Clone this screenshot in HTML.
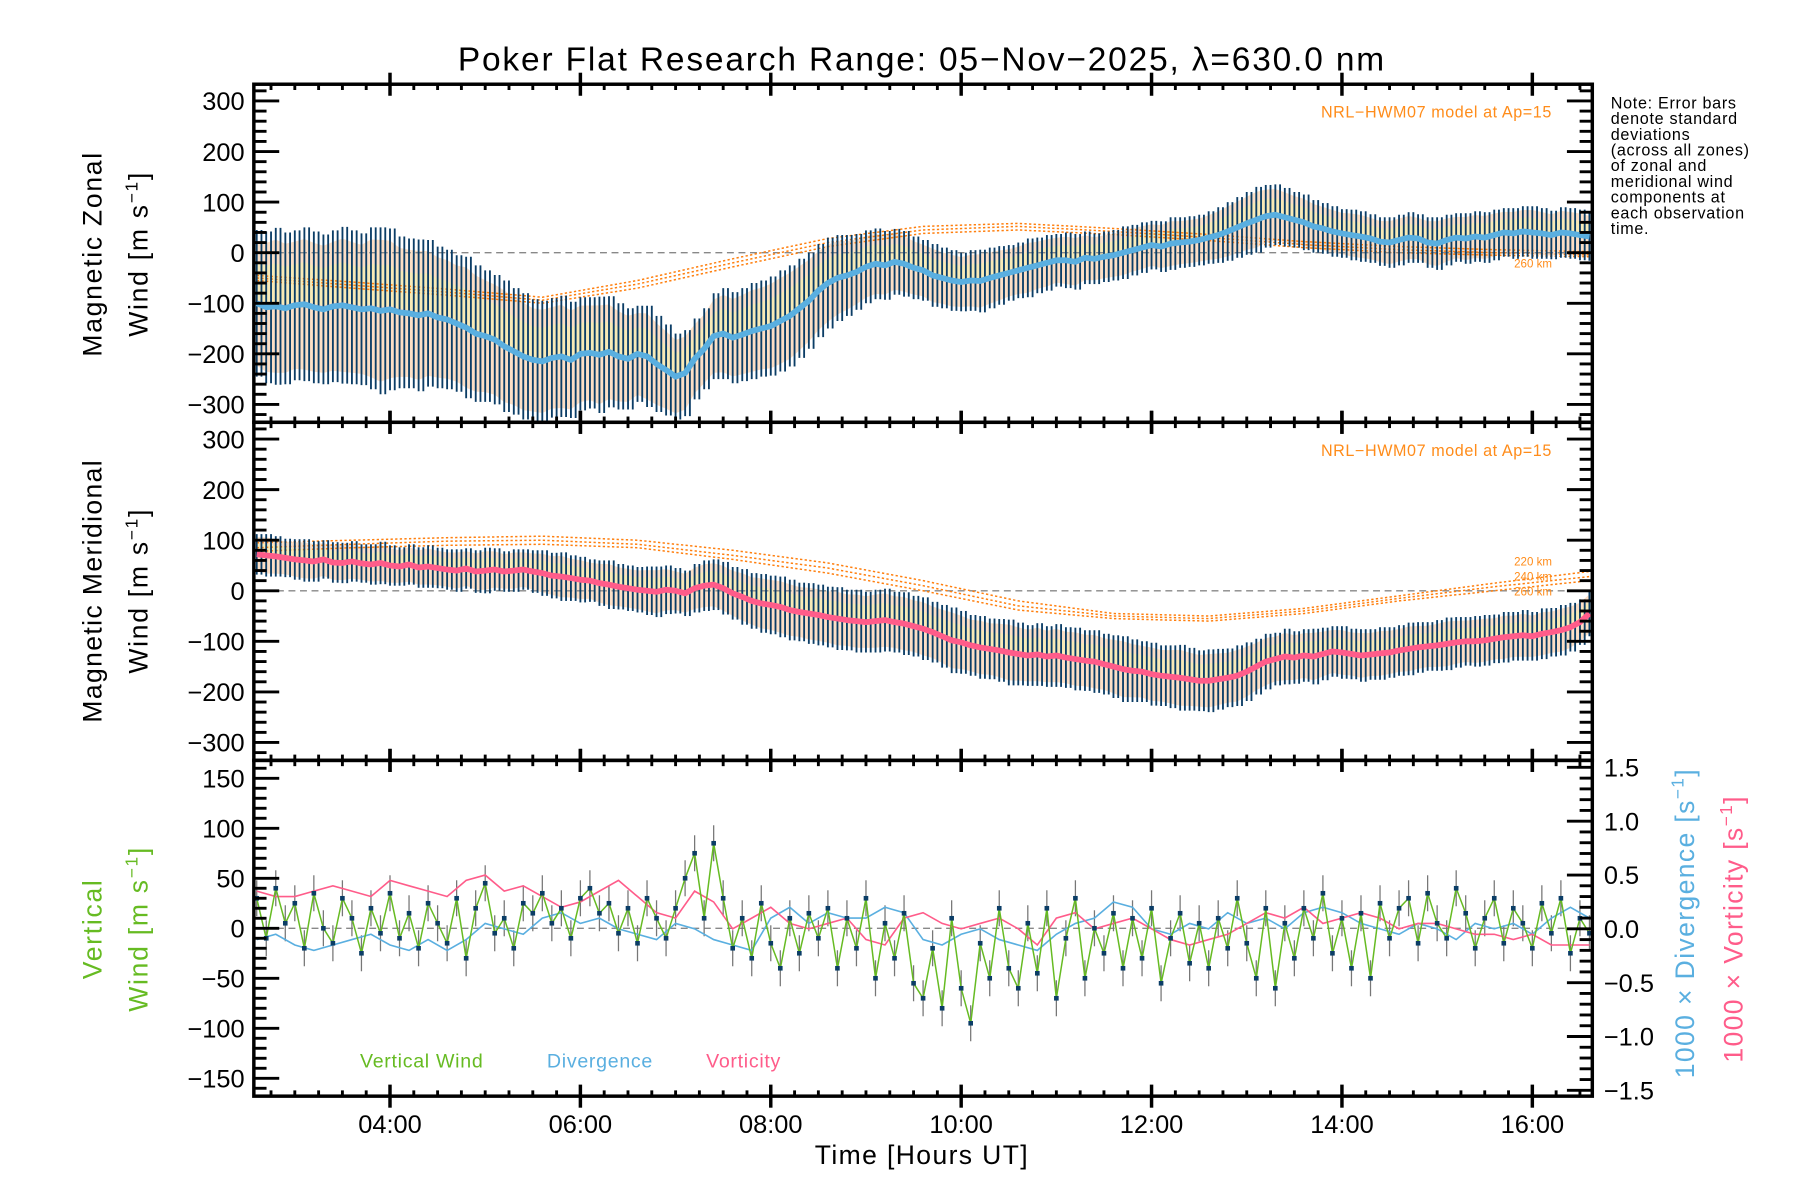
<!DOCTYPE html>
<html><head><meta charset="utf-8"><style>
html,body{margin:0;padding:0;background:#fff;}
svg{display:block;font-family:"Liberation Sans",sans-serif;}
</style></head><body>
<svg id="chart" width="1800" height="1200" viewBox="0 0 1560 1040" xmlns="http://www.w3.org/2000/svg">
<text x="799" y="61" text-anchor="middle" font-size="29" letter-spacing="1.6">Poker Flat Research Range: 05−Nov−2025, λ=630.0 nm</text>
<g id="layer-bg"></g>
<g id="layer-data"></g>
<g id="layer-axes"></g>
<text font-size="14" letter-spacing="0.6" x="1396" y="94">
<tspan x="1396" dy="0">Note: Error bars</tspan><tspan x="1396" dy="13.6">denote standard</tspan><tspan x="1396" dy="13.6">deviations</tspan><tspan x="1396" dy="13.6">(across all zones)</tspan><tspan x="1396" dy="13.6">of zonal and</tspan><tspan x="1396" dy="13.6">meridional wind</tspan><tspan x="1396" dy="13.6">components at</tspan><tspan x="1396" dy="13.6">each observation</tspan><tspan x="1396" dy="13.6">time.</tspan></text>
<text x="1345" y="102" text-anchor="end" font-size="14" letter-spacing="0.5" fill="#ff8c1a">NRL−HWM07 model at Ap=15</text>
<text x="1345" y="395" text-anchor="end" font-size="14" letter-spacing="0.5" fill="#ff8c1a">NRL−HWM07 model at Ap=15</text>
<text x="1345" y="490" text-anchor="end" font-size="10" fill="#ff8c1a">220 km</text>
<text x="1345" y="503" text-anchor="end" font-size="10" fill="#ff8c1a">240 km</text>
<text x="1345" y="516" text-anchor="end" font-size="10" fill="#ff8c1a">260 km</text>
<text x="1345" y="232" text-anchor="end" font-size="10" fill="#ff8c1a">260 km</text>
<text transform="translate(88,220) rotate(-90)" text-anchor="middle" font-size="23" letter-spacing="1.5">Magnetic Zonal</text>
<text transform="translate(128,220) rotate(-90)" text-anchor="middle" font-size="23" letter-spacing="1.5">Wind [m s<tspan dy="-9" font-size="15">−1</tspan><tspan dy="9">]</tspan></text>
<text transform="translate(88,512) rotate(-90)" text-anchor="middle" font-size="23" letter-spacing="1.2">Magnetic Meridional</text>
<text transform="translate(128,512) rotate(-90)" text-anchor="middle" font-size="23" letter-spacing="1.5">Wind [m s<tspan dy="-9" font-size="15">−1</tspan><tspan dy="9">]</tspan></text>
<text transform="translate(88,805) rotate(-90)" text-anchor="middle" font-size="23" letter-spacing="1.5" fill="#66bb22">Vertical</text>
<text transform="translate(128,805) rotate(-90)" text-anchor="middle" font-size="23" letter-spacing="1.5" fill="#66bb22">Wind [m s<tspan dy="-9" font-size="15">−1</tspan><tspan dy="9">]</tspan></text>
<text transform="translate(1468,800) rotate(-90)" text-anchor="middle" font-size="23" letter-spacing="1.2" fill="#5aafe0">1000 × Divergence [s<tspan dy="-9" font-size="15">−1</tspan><tspan dy="9">]</tspan></text>
<text transform="translate(1510,805) rotate(-90)" text-anchor="middle" font-size="23" letter-spacing="1.2" fill="#ff5c8a">1000 × Vorticity [s<tspan dy="-9" font-size="15">−1</tspan><tspan dy="9">]</tspan></text>
<text x="312" y="925" font-size="17" letter-spacing="0.6" fill="#66bb22">Vertical Wind</text>
<text x="474" y="925" font-size="17" letter-spacing="0.6" fill="#5aafe0">Divergence</text>
<text x="612" y="925" font-size="17" letter-spacing="0.6" fill="#ff5c8a">Vorticity</text>
<text x="799" y="1009" text-anchor="middle" font-size="23" letter-spacing="1.2">Time [Hours UT]</text>
</svg>
<script>
const tStart = 2.6, tStep = 0.1;
const zonalMean = [-100,-108,-106,-110,-104,-102,-108,-112,-106,-104,
-108,-112,-110,-115,-112,-118,-120,-124,-120,-128,
-132,-140,-148,-160,-165,-172,-185,-195,-205,-212,
-215,-208,-205,-212,-200,-198,-202,-196,-205,-210,
-200,-205,-220,-232,-245,-238,-210,-190,-165,-160,
-168,-162,-155,-150,-145,-135,-125,-110,-95,-75,
-60,-50,-45,-38,-28,-22,-25,-18,-22,-30,
-35,-45,-50,-55,-58,-55,-56,-50,-45,-40,
-35,-30,-25,-20,-15,-15,-18,-10,-12,-8,
-5,0,5,10,15,12,18,20,22,25,
30,35,42,50,58,65,72,75,70,65,
60,52,48,42,38,35,32,28,22,20,
25,30,28,20,18,25,30,28,32,30,
35,40,38,42,40,38,35,40,38,35,32];
const zonalStd = [145,150,155,150,148,152,150,148,150,155,
152,150,160,165,160,150,148,150,145,140,
138,135,140,135,130,128,130,125,125,120,
120,118,120,115,112,110,115,110,105,100,
95,100,95,90,85,85,80,80,85,90,
90,92,95,95,98,100,100,98,95,92,
90,85,80,75,72,70,68,65,65,62,
60,62,60,60,58,60,62,60,58,55,
55,58,55,55,52,55,55,52,50,50,
50,52,50,50,48,50,52,50,50,50,
52,55,58,60,62,65,62,60,58,55,
55,52,50,50,48,50,50,48,48,50,
50,50,48,50,52,50,48,50,50,50,
50,48,50,50,52,50,48,50,50,50,48];
const meridMean = [72,70,68,65,62,60,58,62,56,55,
58,54,52,55,50,48,52,46,48,45,
42,40,44,38,40,42,38,40,42,38,
35,30,28,25,22,20,15,12,8,5,
2,0,-2,2,0,-5,5,10,12,5,
-5,-12,-20,-25,-28,-32,-38,-42,-45,-48,
-52,-55,-58,-60,-62,-60,-58,-62,-65,-70,
-75,-82,-90,-98,-102,-108,-112,-115,-118,-122,
-125,-128,-126,-130,-128,-132,-135,-138,-140,-145,
-150,-155,-158,-160,-165,-168,-170,-172,-175,-178,
-178,-175,-172,-168,-160,-150,-140,-135,-130,-132,
-128,-130,-125,-120,-122,-125,-128,-126,-124,-122,
-118,-115,-112,-110,-108,-105,-102,-100,-100,-98,
-95,-92,-90,-88,-90,-85,-82,-78,-72,-62,-45];
const meridStd = [40,42,40,38,40,42,40,38,40,40,
40,38,40,42,40,38,40,40,42,40,
40,42,40,42,45,42,40,42,40,42,
45,45,48,45,45,42,45,48,45,45,
45,48,50,48,45,45,48,50,50,52,
52,55,55,58,58,60,60,58,60,60,
60,62,60,62,60,62,62,60,62,60,
62,60,62,65,62,60,62,60,62,65,
62,60,62,60,62,60,62,60,62,60,
62,65,62,60,62,60,62,65,62,60,
62,60,58,60,58,55,55,52,55,52,
52,55,52,50,52,50,52,50,52,50,
50,52,50,48,50,52,50,48,50,50,
48,50,48,50,48,50,48,50,48,45,45];
const vertWind = [30,-10,40,5,25,-20,35,0,-15,30,
10,-25,20,-5,35,-10,15,-20,25,5,
-15,30,-30,20,45,-5,10,-20,25,15,
35,5,20,-10,30,40,15,25,-5,20,
-15,30,10,-10,20,50,75,10,85,30,
-20,10,-30,25,-15,-40,10,-25,15,-10,
20,-40,10,-20,30,-50,5,-30,15,-55,
-70,-20,-80,10,-60,-95,-15,-50,20,-40,
-60,5,-45,20,-70,-10,30,-50,0,-25,
15,-40,10,-30,20,-55,-10,15,-35,5,
-40,10,-20,30,-15,-50,20,-60,5,-30,
20,-10,35,-25,10,-40,15,-50,25,-10,
20,30,-15,35,5,-10,40,15,-20,10,
30,-15,20,5,-20,25,-5,30,-25,10,-5];
const vertErr = 18;
const dvStep = 0.2;
const divergence = [-0.1,-0.05,-0.15,-0.2,-0.15,-0.1,-0.05,-0.15,-0.2,-0.1,
-0.2,-0.1,0.05,0.0,-0.05,0.1,0.15,0.05,0.1,0.0,
-0.05,-0.1,0.05,0.0,-0.1,-0.15,-0.2,0.1,0.2,0.05,
0.15,0.1,0.1,0.2,0.15,-0.1,-0.15,-0.05,0.0,-0.1,
-0.15,-0.2,-0.05,0.05,0.1,0.25,0.2,0.0,-0.05,0.05,
0.0,0.15,0.05,0.1,0.0,0.15,0.2,0.15,0.05,0.0,
-0.05,0.05,0.0,-0.1,0.05,0.0,0.05,-0.05,0.1,0.2,0.1];
const vorticity = [0.35,0.3,0.3,0.35,0.4,0.35,0.3,0.45,0.4,0.35,
0.3,0.45,0.5,0.35,0.4,0.3,0.2,0.25,0.35,0.45,
0.3,0.15,0.1,0.35,0.25,0.0,0.1,0.2,0.05,0.0,
0.05,0.1,-0.1,-0.15,0.1,0.15,0.05,0.0,0.05,0.1,
0.0,-0.15,0.1,0.15,0.0,0.05,0.1,0.0,-0.1,-0.15,
-0.1,-0.05,0.05,0.15,0.1,0.2,0.05,0.1,0.15,0.1,
0.0,0.05,0.05,0.0,-0.05,-0.05,-0.1,-0.05,-0.15,-0.15,-0.15];
const modelStep = 1.0;
const zonalModel220 = [-45,-58,-72,-88,-55,-12,28,52,58,48,36,22,12,6,2];
const zonalModel240 = [-50,-64,-78,-94,-62,-20,20,45,52,42,30,16,6,0,-4];
const zonalModel260 = [-55,-70,-84,-100,-70,-28,12,38,45,36,24,10,0,-5,-8];
const meridModel220 = [95,100,105,108,100,80,55,20,-20,-45,-50,-35,-10,15,38];
const meridModel240 = [85,92,98,100,92,70,45,10,-30,-50,-55,-40,-15,8,28];
const meridModel260 = [78,85,90,92,85,62,35,0,-38,-55,-60,-45,-20,0,20];
const xTickHours = [4,6,8,10,12,14,16];
const xTickLabels = ["04:00","06:00","08:00","10:00","12:00","14:00","16:00"];
const windTicks = [-300,-200,-100,0,100,200,300];
const vertTicks = [-150,-100,-50,0,50,100,150];
const rightTicks = [-1.5,-1.0,-0.5,0.0,0.5,1.0,1.5];

const NS='http://www.w3.org/2000/svg';
const L=220, R=1380, T0=73, B1=366, B2=659, B3=950;
const x = h => L + (h - 2.5697)*(R-L)/(16.63-2.5697);
const y1 = v => 219 - v*0.4383;
const y2 = v => 512 - v*0.4383;
const y3 = v => 804.5 - v*0.8667;
const yr = v => 805 - v*93.3;
const bg=document.getElementById('layer-bg'), dl=document.getElementById('layer-data'), ax=document.getElementById('layer-axes');
function mk(tag, attrs, parent){const e=document.createElementNS(NS,tag);for(const k in attrs)e.setAttribute(k,attrs[k]);parent.appendChild(e);return e;}
function pts(arr, step, start, yf){return arr.map((v,i)=>x(start+i*step).toFixed(1)+','+yf(v).toFixed(1)).join(' ');}

const defs=mk('defs',{},document.getElementById('chart'));
[[1,T0,B1],[2,B1,B2],[3,B2,B3]].forEach(([n,a,b])=>{const c=mk('clipPath',{id:'clip'+n},defs);mk('rect',{x:L,y:a,width:R-L,height:b-a},c);});

function windPanel(n, mean, std, yf, lineColor, models){
  const g=mk('g',{'clip-path':'url(#clip'+n+')'},dl);
  const up=mean.map((v,i)=>x(tStart+i*tStep).toFixed(1)+','+yf(v+std[i]*0.85).toFixed(1));
  const lo=mean.map((v,i)=>x(tStart+i*tStep).toFixed(1)+','+yf(v-std[i]*0.85).toFixed(1)).reverse();
  const band=mk('polygon',{points:up.concat(lo).join(' '),fill:'#fbd9bc',opacity:'0.85'},g);
  
  
  const up2=mean.map((v,i)=>x(tStart+i*tStep).toFixed(1)+','+yf(v+std[i]*0.55).toFixed(1));
  const mid=mean.map((v,i)=>x(tStart+i*tStep).toFixed(1)+','+yf(v+std[i]*0.05).toFixed(1)).reverse();
  const band2=mk('polygon',{points:up2.concat(mid).join(' '),fill:'#f6eeb0',opacity:'0.7'},g);
  
  
  mk('line',{x1:L,x2:R,y1:yf(0),y2:yf(0),stroke:'#888','stroke-dasharray':'6,4','stroke-width':1.2},g);
  models.forEach((m,k)=>{
    const pl=mk('polyline',{points:pts(m,modelStep,tStart,yf),fill:'none',stroke:'#ff7f0e','stroke-width':1.3,'stroke-dasharray':'2,2'},g);
    
    
  });
  mean.forEach((v,i)=>{
    [0,0.5].forEach(o=>{
      const xb=x(tStart+(i+o)*tStep);
      const eb=mk('line',{x1:xb.toFixed(1),x2:xb.toFixed(1),y1:yf(v+std[i]).toFixed(1),y2:yf(v-std[i]).toFixed(1),stroke:'#0b3d66','stroke-width':1.6},g);
      
      
    });
  });
  const ml=mk('polyline',{points:pts(mean,tStep,tStart,yf),fill:'none',stroke:lineColor,'stroke-width':5,'stroke-linejoin':'round'},g);
  
  
}
windPanel(1, zonalMean, zonalStd, y1, '#5aafe0', [zonalModel220,zonalModel240,zonalModel260]);
windPanel(2, meridMean, meridStd, y2, '#ff5c8a', [meridModel220,meridModel240,meridModel260]);

const g3=mk('g',{'clip-path':'url(#clip3)'},dl);
mk('line',{x1:L,x2:R,y1:y3(0),y2:y3(0),stroke:'#888','stroke-dasharray':'6,4','stroke-width':1.2},g3);
vertWind.forEach((v,i)=>{
  const xx=x(tStart+i*tStep);
  const eb=mk('line',{x1:xx,x2:xx,y1:y3(v+vertErr),y2:y3(v-vertErr),stroke:'#777','stroke-width':1.1},g3);
  
  
});
const dv=mk('polyline',{points:pts(divergence,dvStep,tStart,yr),fill:'none',stroke:'#5aafe0','stroke-width':1.4},g3);


const vo=mk('polyline',{points:pts(vorticity,dvStep,tStart,yr),fill:'none',stroke:'#ff5c8a','stroke-width':1.4},g3);


const vw=mk('polyline',{points:pts(vertWind,tStep,tStart,y3),fill:'none',stroke:'#66bb22','stroke-width':1.3},g3);


vertWind.forEach((v,i)=>{
  const xx=x(tStart+i*tStep);
  const p=mk('rect',{x:xx-2,y:y3(v)-2,width:4,height:4,fill:'#0b3d66'},g3);
  
  
});

[[T0,B1],[B1,B2],[B2,B3]].forEach(([a,b],n)=>{
  const fr=mk('rect',{x:L,y:a,width:R-L,height:b-a,fill:'none',stroke:'#000','stroke-width':3},ax);
  
  
  for(let h=2.75;h<16.63;h+=0.25){
    const xx=x(h), major=Math.abs(h-Math.round(h))<0.01 && Math.round(h)%2===0;
    const len=major?10:5;
    mk('line',{x1:xx,x2:xx,y1:a-(major?len:0),y2:a+len,stroke:'#000','stroke-width':major?3:2.5},ax);
    mk('line',{x1:xx,x2:xx,y1:b+(major?len:0),y2:b-len,stroke:'#000','stroke-width':major?3:2.5},ax);
  }
});
function yTicks(yf, ticks, minorStep, lo, hi, a, b, fmt, side){
  for(let v=lo; v<=hi+1e-9; v+=minorStep){
    const yy=yf(v); if(yy<a-1||yy>b+1) continue;
    const major=ticks.some(t=>Math.abs(t-v)<1e-6);
    if(side!=='right'){mk('line',{x1:L,x2:L+(major?22:11),y1:yy,y2:yy,stroke:'#000','stroke-width':2.5},ax);}
    if(side!=='left'){mk('line',{x1:R,x2:R-(major?22:11),y1:yy,y2:yy,stroke:'#000','stroke-width':2.5},ax);}
  }
  ticks.forEach(t=>{
    const yy=yf(t); if(yy<a-5||yy>b+5) return;
    const tx=mk('text',{x:side==='right'?R+10:L-8,y:yy+8,'text-anchor':side==='right'?'start':'end','font-size':22},ax);
    tx.textContent=fmt(t);
    
    
  });
}
const fmtInt=t=>(t<0?'−':'')+Math.abs(t);
const fmt1=t=>(t<0?'−':'')+Math.abs(t).toFixed(1);
yTicks(y1, windTicks, 20, -340, 340, T0, B1, fmtInt, 'both');
yTicks(y2, windTicks, 20, -340, 340, B1, B2, fmtInt, 'both');
yTicks(y3, vertTicks, 10, -170, 170, B2, B3, fmtInt, 'left');
yTicks(yr, rightTicks, 0.1, -1.5, 1.5, B2, B3, fmt1, 'right');
xTickHours.forEach((h,i)=>{
  const t=mk('text',{x:x(h),y:982,'text-anchor':'middle','font-size':22},ax);
  t.textContent=xTickLabels[i];
  
  
});
</script>
</body></html>
